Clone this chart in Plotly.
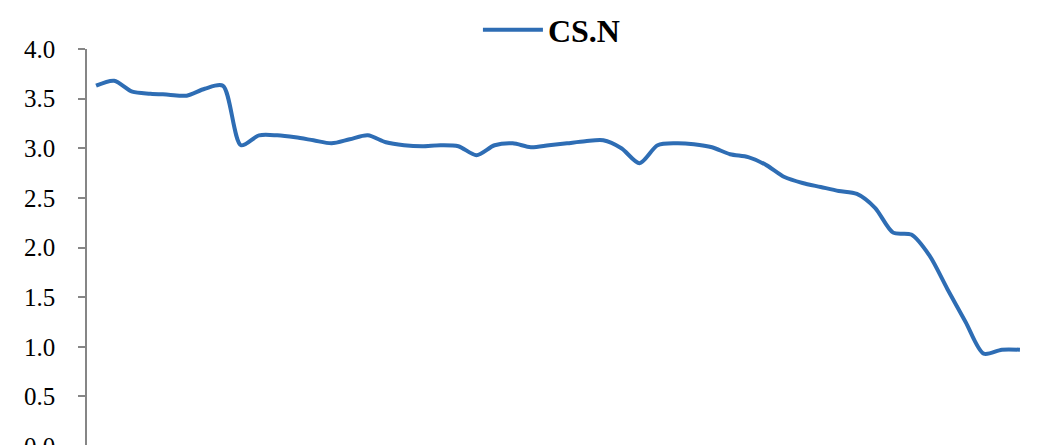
import plotly.graph_objects as go

# CS.N series (one value per period)
periods = list(range(52))
cs_n = [
    3.63, 3.68, 3.57, 3.55, 3.54, 3.53, 3.60, 3.63, 3.03, 3.13,
    3.13, 3.11, 3.08, 3.05, 3.09, 3.13, 3.06, 3.03, 3.02, 3.03,
    3.02, 2.93, 3.03, 3.05, 3.01, 3.03, 3.05, 3.07, 3.08, 3.00,
    2.85, 3.03, 3.05, 3.04, 3.01, 2.94, 2.91, 2.83, 2.71, 2.65,
    2.61, 2.57, 2.54, 2.40, 2.15, 2.13, 1.92, 1.58, 1.25, 0.93,
    0.97, 0.97,
]
y_ticks = [0.0, 0.5, 1.0, 1.5, 2.0, 2.5, 3.0, 3.5, 4.0]
y_labels = [f"{v:.1f}" for v in y_ticks]

fig = go.Figure()
fig.add_trace(go.Scatter(
    x=periods, y=cs_n, name="CS.N", mode="lines",
    line=dict(color="#2E6DB4", width=4, shape="spline", smoothing=0.8),
))

# page body keeps an 8px margin; the bottom of the figure runs past the window
axis_grey = "#868686"
fig.update_layout(
    width=1037, height=457,
    margin=dict(l=79, r=16, t=41, b=19, autoexpand=False),
    paper_bgcolor="white", plot_bgcolor="white",
    font=dict(family="Liberation Serif, Times New Roman, serif", color="black"),
    showlegend=True,
    legend=dict(
        orientation="h", x=0.415, xanchor="left", y=1.048, yanchor="middle",
        itemwidth=60,
        font=dict(size=32, family="Liberation Serif, serif", weight="bold"),
        bgcolor="rgba(0,0,0,0)",
    ),
    xaxis=dict(visible=False, range=[-0.5, 51.5]),
    yaxis=dict(
        range=[0, 4.0], tickvals=y_ticks, ticktext=y_labels,
        showgrid=False, zeroline=False, automargin=False,
        showline=True, linecolor=axis_grey, linewidth=1.5,
        ticks="outside", ticklen=7, tickcolor=axis_grey, tickwidth=1.5,
        ticklabelstandoff=18,
        tickfont=dict(size=25, family="Liberation Serif, serif"),
    ),
)

fig.write_html("out.html")
